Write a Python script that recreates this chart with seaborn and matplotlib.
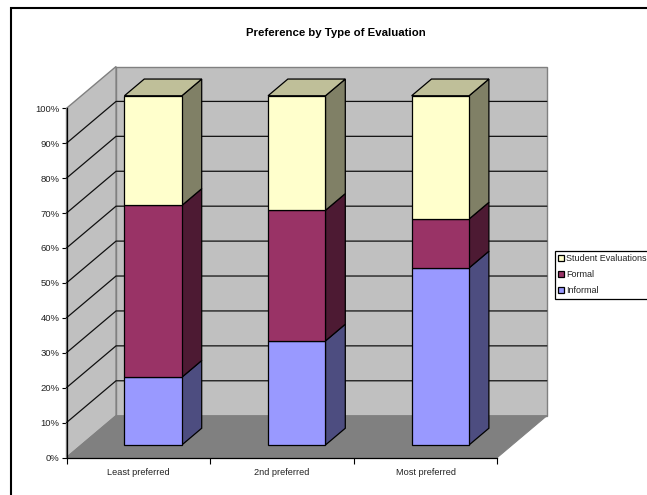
import matplotlib
matplotlib.use("Agg")
import matplotlib.pyplot as plt
from matplotlib.lines import Line2D
from matplotlib.patches import Patch, Polygon
from matplotlib.transforms import Affine2D
import seaborn as sns

categories = ["Least preferred", "2nd preferred", "Most preferred"]
informal = [19.4, 29.8, 50.7]
formal = [49.2, 37.4, 14.0]
student = [31.4, 32.8, 35.3]
series_names = ["Informal", "Formal", "Student Evaluations"]
face_colors = ["#9999FF", "#993366", "#FFFFCC"]
side_colors = ["#4D4D80", "#4D1A33", "#808066"]
top_color = "#BFBF99"
percent_ticks = list(range(0, 101, 10))

W, H = 647, 495
LEFT, RIGHT, TOP, BOTTOM = 66.5, 497.3, 108.3, 457.5

sns.set_theme(style="white")
plt.rcParams["font.family"] = ["Liberation Sans", "DejaVu Sans"]

fig = plt.figure(figsize=(W / 100, H / 100), dpi=100, facecolor="white")
ax = fig.add_axes([LEFT / W, 1 - BOTTOM / H, (RIGHT - LEFT) / W, (BOTTOM - TOP) / H])
ax.patch.set_alpha(0)

# Oblique projection: depth runs up and to the right, in data units
DEPTH_X = 0.345
DEPTH_Y = 11.97


def project(x, y, depth):
    return (x + depth * DEPTH_X, y + depth * DEPTH_Y)


def add_poly(points, color, edge="black", lw=0.9, zorder=2):
    ax.add_patch(Polygon(points, closed=True, facecolor=color, edgecolor=edge,
                         linewidth=lw, clip_on=False, zorder=zorder))


# Chart box: walls, floor and gridlines
x0, x1 = -0.5, 2.5
add_poly([project(x0, 0, 1), project(x1, 0, 1), project(x1, 100, 1), project(x0, 100, 1)],
         "#C0C0C0", "#808080", 1.0, 1)
add_poly([project(x0, 0, 0), project(x0, 0, 1), project(x0, 100, 1), project(x0, 100, 0)],
         "#C0C0C0", "#808080", 1.0, 1)
add_poly([project(x0, 0, 0), project(x1, 0, 0), project(x1, 0, 1), project(x0, 0, 1)],
         "#808080", "#808080", 0.8, 1.2)
for p in percent_ticks[1:-1]:
    a, b, c = project(x0, p, 0), project(x0, p, 1), project(x1, p, 1)
    ax.plot([a[0], b[0], c[0]], [a[1], b[1], c[1]], color="#101010", lw=0.9,
            clip_on=False, zorder=1.5)

# Front faces come from seaborn; the offset places them at the bar's front plane
stack_bottom = [0.0, 0.0, 0.0]
shift = Affine2D().translate(0.3 * DEPTH_X, 0.3 * DEPTH_Y) + ax.transData
for values, color in zip([informal, formal, student], face_colors):
    before = len(ax.patches)
    sns.barplot(x=categories, y=values, bottom=stack_bottom, color=color, saturation=1,
                width=0.4, edgecolor="black", linewidth=0.9, ax=ax, zorder=4)
    for bar in ax.patches[before:]:
        bar.set_transform(shift)
        bar.set_clip_on(False)
    stack_bottom = [b + v for b, v in zip(stack_bottom, values)]

# Side and top faces of each stack
stack_bottom = [0.0, 0.0, 0.0]
for values, color in zip([informal, formal, student], side_colors):
    for i, v in enumerate(values):
        b, t = stack_bottom[i], stack_bottom[i] + v
        xr = i + 0.2
        add_poly([project(xr, b, 0.3), project(xr, t, 0.3), project(xr, t, 0.7), project(xr, b, 0.7)],
                 color, zorder=3)
    stack_bottom = [b + v for b, v in zip(stack_bottom, values)]
for i, t in enumerate(stack_bottom):
    add_poly([project(i - 0.2, t, 0.3), project(i + 0.2, t, 0.3), project(i + 0.2, t, 0.7),
              project(i - 0.2, t, 0.7)], top_color, zorder=3)

# Axes, ticks and labels
ax.set_xlim(x0, x1)
ax.set_ylim(0, 100)
ax.set_yticks(percent_ticks)
ax.set_yticklabels([f"{p}%" for p in percent_ticks])
ax.set_xticks([x0, 0.5, 1.5, x1], minor=True)
ax.tick_params(axis="x", which="major", length=0, labelsize=6.6, pad=7.5, labelcolor="#222222")
ax.tick_params(axis="x", which="minor", length=4.5, width=0.8, color="black", bottom=True)
ax.tick_params(axis="y", length=3.6, width=0.8, color="black", left=True, labelsize=6.8,
               pad=1.5, labelcolor="#222222")
sns.despine(ax=ax, top=True, right=True)
for side in ("left", "bottom"):
    ax.spines[side].set_color("black")
    ax.spines[side].set_linewidth(0.9)
    ax.spines[side].set_zorder(2.5)
ax.set_xlabel("")
ax.set_ylabel("")

fig.text(336 / W, 1 - 33.5 / H, "Preference by Type of Evaluation", ha="center", va="center",
         fontsize=8.2, fontweight="bold", color="black")

handles = [Patch(facecolor=c, edgecolor="black", linewidth=0.9, label=n)
           for c, n in zip(face_colors[::-1], series_names[::-1])]
legend = fig.legend(handles=handles, loc="upper left",
                    bbox_to_anchor=(554.5 / W, 1 - 250.5 / H), fontsize=6.5,
                    frameon=True, fancybox=False, edgecolor="black", framealpha=1,
                    borderpad=0.42, borderaxespad=0, labelspacing=0.78, handlelength=0.66,
                    handleheight=0.66, handletextpad=0.2)
legend.get_frame().set_linewidth(0.9)
for text in legend.get_texts():
    text.set_color("#222222")

# Outer chart border along the top and left of the canvas
fig.add_artist(Line2D([11 / W, 11 / W, 1], [0, 1 - 8 / H, 1 - 8 / H], color="black", lw=1.5,
                      solid_joinstyle="miter"))

fig.savefig("out.png", dpi=100)
